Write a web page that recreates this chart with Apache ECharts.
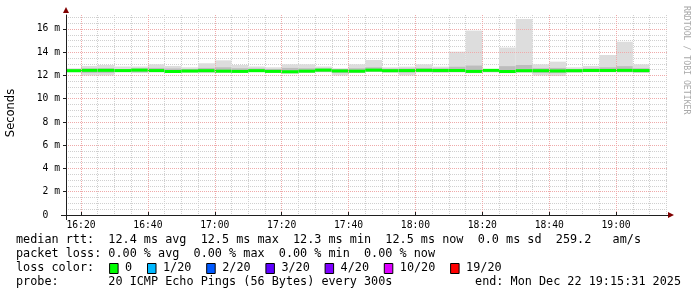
<!DOCTYPE html>
<html><head><meta charset="utf-8">
<script src="https://cdn.jsdelivr.net/npm/echarts@6/dist/echarts.min.js"></script>
<style>html,body{margin:0;padding:0;background:#fff}#c{width:697px;height:297px}</style>
</head><body><div id="c"></div>
<script>
// ---- data (5-minute steps, label = end of step) ----
const stepEnds = ['16:20','16:25','16:30','16:35','16:40','16:45','16:50','16:55','17:00','17:05','17:10','17:15','17:20','17:25','17:30','17:35','17:40','17:45','17:50','17:55','18:00','18:05','18:10','18:15','18:20','18:25','18:30','18:35','18:40','18:45','18:50','18:55','19:00','19:05','19:10'];
const medianMs = [12.41,12.44,12.44,12.42,12.46,12.42,12.34,12.38,12.41,12.37,12.35,12.41,12.35,12.32,12.37,12.46,12.39,12.37,12.46,12.41,12.42,12.44,12.43,12.43,12.35,12.44,12.34,12.41,12.41,12.39,12.41,12.43,12.43,12.44,12.42];
const smokeMinMs = [12.27,12.0,12.0,12.27,12.2,12.27,12.27,12.27,12.2,12.27,12.27,12.3,12.3,12.2,12.27,12.27,12.0,12.2,12.3,12.25,12.0,12.25,12.22,12.25,12.22,12.25,12.27,12.25,12.0,11.95,12.25,12.27,12.27,12.25,12.22];
const smokeLowMs = [12.32,12.22,12.22,12.3,12.28,12.3,12.22,12.28,12.28,12.25,12.25,12.3,12.25,12.18,12.25,12.3,12.22,12.25,12.32,12.28,12.25,12.3,12.28,12.3,12.2,12.3,12.2,12.28,12.22,12.2,12.28,12.3,12.3,12.3,12.27];
const smokeHighMs = [12.55,12.6,12.62,12.55,12.6,12.65,12.6,12.55,12.65,12.7,12.62,12.6,12.55,12.65,12.62,12.6,12.55,12.62,12.7,12.58,12.6,12.65,12.6,12.75,12.85,12.55,12.8,12.9,12.62,12.65,12.55,12.6,12.7,12.8,12.62];
const smokeMaxMs = [12.62,12.82,12.9,12.77,12.77,12.96,12.82,12.7,13.05,13.3,12.9,12.77,12.7,12.96,12.96,12.77,12.62,12.96,13.33,12.7,12.76,12.96,12.76,14.05,15.86,12.53,14.4,16.86,12.96,13.19,12.7,12.82,13.76,14.9,12.96];
const xTickLabels = ['16:20','16:40','17:00','17:20','17:40','18:00','18:20','18:40','19:00'];
const yTickValues = [0,2,4,6,8,10,12,14,16];
const startTime = '16:15:31', endTime = '19:15:31';
const statLines = [
  'median rtt:  12.4 ms avg  12.5 ms max  12.3 ms min  12.5 ms now  0.0 ms sd  259.2   am/s',
  'packet loss: 0.00 % avg  0.00 % max  0.00 % min  0.00 % now'
];
const lossLabels = ['0','1/20','2/20','3/20','4/20','10/20','19/20'];
const lossColors = ['#00ff00','#00b8ff','#0059ff','#5e00ff','#7e00ff','#dd00ff','#ff0000'];
const probeText = 'probe:       20 ICMP Echo Pings (56 Bytes) every 300s';
const endText = 'end: Mon Dec 22 19:15:31 2025';

// ---- helpers ----
function toMin(s){const p=s.split(':').map(Number);return p[0]*60+p[1]+(p[2]||0)/60;}
function toHHMM(v){v=Math.round(v);const h=Math.floor(v/60),m=v%60;return (h<10?'0':'')+h+':'+(m<10?'0':'')+m;}
const X_MIN = toMin(startTime), X_MAX = toMin(endTime), STEP = 5;
const Y_MAX = 17.2;
const majorX = xTickLabels.map(toMin);
const minorX = [];
for (let t = Math.ceil(X_MIN/STEP)*STEP; t <= X_MAX; t += STEP) if (majorX.indexOf(t) < 0) minorX.push(t);
const minorY = [];
for (let v = 0.5; v <= Y_MAX; v += 0.5) if (v % 2 !== 0) minorY.push(v);

const data = stepEnds.map((s,i)=>[toMin(s), smokeMinMs[i], smokeLowMs[i], medianMs[i], smokeHighMs[i], smokeMaxMs[i]]);

function renderItem(params, api){
  const t1 = api.value(0), t0 = Math.max(t1 - STEP, X_MIN);
  function band(lo, hi, fill){
    const a = api.coord([t0, hi]), b = api.coord([t1, lo]);
    return {type:'rect', shape:{x:a[0], y:a[1], width:b[0]-a[0], height:b[1]-a[1]}, style:{fill:fill}};
  }
  const mid = api.coord([t0, api.value(3)]), midEnd = api.coord([t1, api.value(3)]);
  return {type:'group', children:[
    band(api.value(1), api.value(5), '#dddddd'),
    band(api.value(2), api.value(4), '#bdbdbd'),
    {type:'rect', shape:{x:mid[0], y:mid[1]-1.5, width:midEnd[0]-mid[0], height:3}, style:{fill:'#00ff00'}}
  ]};
}

const mono = 'DejaVu Sans Mono';
const graphics = [];
statLines.forEach((t,i)=>graphics.push({type:'text', left:16, top:234+i*14, style:{text:t, font:'11.8px "'+mono+'"', fill:'#000'}}));
graphics.push({type:'text', left:16, top:262, style:{text:'loss color:', font:'11.8px "'+mono+'"', fill:'#000'}});
let lx = 109.6;
lossLabels.forEach((l,i)=>{
  graphics.push({type:'rect', shape:{x:lx, y:263.5, width:8.5, height:10}, style:{fill:lossColors[i], stroke:'#000', lineWidth:1}});
  graphics.push({type:'text', left:lx+15.5, top:262, style:{text:l, font:'11.8px "'+mono+'"', fill:'#000'}});
  lx += 15.5 + l.length*7.1 + 15.3;
});
graphics.push({type:'text', left:16, top:276, style:{text:probeText, font:'11.8px "'+mono+'"', fill:'#000'}});
graphics.push({type:'text', right:16, top:276, style:{text:endText, font:'11.8px "'+mono+'"', fill:'#000'}});
graphics.push({type:'text', x:11, y:113, rotation:Math.PI/2, style:{text:'Seconds', font:'11.5px "DejaVu Sans"', fill:'#000', align:'center', verticalAlign:'middle'}});
graphics.push({type:'text', x:686, y:6, rotation:-Math.PI/2, style:{text:'RRDTOOL / TOBI OETIKER', font:'8.2px "'+mono+'"', fill:'#a8a8a8', align:'left', verticalAlign:'middle'}});
// axis arrows and stubs
graphics.push({type:'polygon', shape:{points:[[63,13],[69,13],[66,7]]}, style:{fill:'#800000'}});
graphics.push({type:'polygon', shape:{points:[[668,212],[668,218],[674,215]]}, style:{fill:'#800000'}});
graphics.push({type:'line', shape:{x1:66.5, y1:215, x2:66.5, y2:220}, style:{stroke:'#1f1f1f', lineWidth:1}});
graphics.push({type:'line', shape:{x1:61, y1:215.5, x2:66, y2:215.5}, style:{stroke:'#1f1f1f', lineWidth:1}});

const option = {
  animation:false,
  backgroundColor:'#ffffff',
  grid:{left:66, right:29, top:15, bottom:82},
  xAxis:[
    {type:'value', min:X_MIN, max:X_MAX, z:3,
     axisLine:{show:true, lineStyle:{color:'#1f1f1f', width:1}},
     axisTick:{show:true, customValues:majorX, length:3, inside:true, lineStyle:{color:'#1f1f1f'}},
     axisLabel:{customValues:majorX, formatter:v=>toHHMM(v), color:'#000', fontFamily:mono, fontSize:9.7, margin:5},
     splitLine:{show:true, lineStyle:{color:'#efaaaa', type:[1,1], width:1}}},
    {type:'value', min:X_MIN, max:X_MAX, position:'bottom',
     axisLine:{show:false}, axisTick:{show:false, customValues:minorX},
     axisLabel:{show:false, customValues:minorX},
     splitLine:{show:true, lineStyle:{color:'#d0d0d0', type:[1,1], width:1}}}
  ],
  yAxis:[
    {type:'value', min:0, max:Y_MAX, z:3,
     axisLine:{show:true, lineStyle:{color:'#1f1f1f', width:1}},
     axisTick:{show:true, customValues:yTickValues, length:3, lineStyle:{color:'#1f1f1f'}},
     axisLabel:{customValues:yTickValues, formatter:v=> v===0 ? '0  ' : v+' m', color:'#000', fontFamily:mono, fontSize:9.7, margin:6},
     splitLine:{show:true, lineStyle:{color:'#efaaaa', type:[1,1], width:1}}},
    {type:'value', min:0, max:Y_MAX, position:'left',
     axisLine:{show:false}, axisTick:{show:false, customValues:minorY},
     axisLabel:{show:false, customValues:minorY},
     splitLine:{show:true, lineStyle:{color:'#d0d0d0', type:[1,1], width:1}}}
  ],
  series:[{type:'custom', xAxisIndex:0, yAxisIndex:0, renderItem:renderItem, data:data, z:2,
           encode:{x:0, y:[1,2,3,4,5]}}],
  graphic:graphics
};
const chart = echarts.init(document.getElementById('c'), null, {renderer:'canvas'});
chart.setOption(option);
</script></body></html>
